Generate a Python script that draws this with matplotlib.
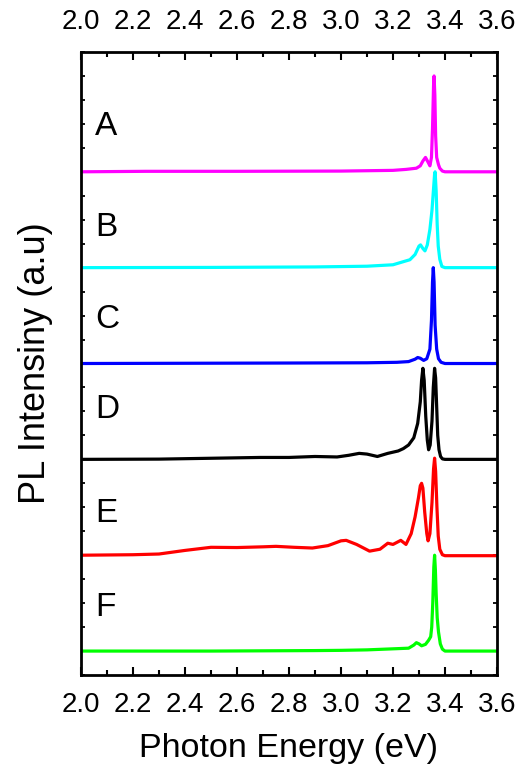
import matplotlib
matplotlib.use("Agg")
import matplotlib.pyplot as plt
from matplotlib.ticker import MultipleLocator

plt.rcParams['font.family'] = ['Liberation Sans', 'DejaVu Sans']

labels = ["A", "B", "C", "D", "E", "F"]
colors = ["#FF00FF", "#00FFFF", "#0000FF", "#000000", "#FF0000", "#00FF00"]
offsets = [21, 17, 13, 9, 5, 1]

A_x = [2.0, 2.25, 2.6, 3.0, 3.2, 3.25, 3.29, 3.305, 3.315, 3.325, 3.335, 3.342, 3.348, 3.352, 3.356, 3.358, 3.361, 3.364, 3.368, 3.375, 3.38, 3.39, 3.4, 3.6]
A_y = [0.0, 0.02, 0.02, 0.03, 0.06, 0.1, 0.15, 0.25, 0.45, 0.6, 0.4, 0.25, 0.6, 1.8, 3.6, 4.0, 3.2, 1.5, 0.6, 0.3, 0.15, 0.03, 0.0, 0.0]

B_x = [2.0, 2.5, 2.9, 3.1, 3.2, 3.24, 3.265, 3.285, 3.3, 3.306, 3.315, 3.323, 3.332, 3.342, 3.35, 3.356, 3.36, 3.362, 3.366, 3.37, 3.374, 3.38, 3.388, 3.4, 3.6]
B_y = [0.0, 0.01, 0.03, 0.06, 0.12, 0.25, 0.33, 0.55, 0.9, 0.95, 0.8, 0.7, 0.95, 1.6, 2.4, 3.3, 3.9, 4.0, 3.2, 1.8, 0.9, 0.35, 0.05, 0.0, 0.0]

C_x = [2.0, 2.8, 3.1, 3.215, 3.26, 3.285, 3.295, 3.305, 3.318, 3.33, 3.342, 3.348, 3.352, 3.355, 3.358, 3.362, 3.368, 3.375, 3.385, 3.4, 3.6]
C_y = [0.0, 0.02, 0.03, 0.05, 0.08, 0.18, 0.25, 0.22, 0.13, 0.2, 0.6, 1.8, 3.4, 4.0, 3.4, 1.6, 0.6, 0.2, 0.05, 0.0, 0.0]

D_x = [2.0, 2.3, 2.69, 2.8, 2.9, 2.985, 3.03, 3.07, 3.1, 3.14, 3.18, 3.22, 3.24, 3.26, 3.28, 3.295, 3.305, 3.31, 3.315, 3.32, 3.326, 3.332, 3.337, 3.343, 3.35, 3.355, 3.36, 3.364, 3.368, 3.372, 3.377, 3.383, 3.39, 3.4, 3.6]
D_y = [0.0, 0.01, 0.08, 0.08, 0.12, 0.1, 0.17, 0.25, 0.22, 0.12, 0.25, 0.35, 0.45, 0.6, 0.9, 1.5, 2.4, 3.3, 3.8, 3.3, 1.8, 0.8, 0.4, 0.6, 1.6, 3.0, 3.8, 3.4, 2.2, 1.0, 0.4, 0.12, 0.02, 0.0, 0.0]

E_x = [2.0, 2.2, 2.3, 2.4, 2.5, 2.6, 2.7, 2.75, 2.82, 2.89, 2.95, 3.0, 3.02, 3.06, 3.11, 3.15, 3.18, 3.2, 3.23, 3.25, 3.27, 3.285, 3.298, 3.305, 3.31, 3.315, 3.322, 3.33, 3.335, 3.342, 3.35, 3.356, 3.36, 3.364, 3.369, 3.374, 3.38, 3.39, 3.4, 3.6]
E_y = [0.0, 0.02, 0.05, 0.2, 0.33, 0.32, 0.35, 0.37, 0.33, 0.3, 0.4, 0.6, 0.62, 0.45, 0.17, 0.25, 0.5, 0.45, 0.62, 0.45, 0.9, 1.6, 2.4, 2.9, 3.0, 2.8, 1.8, 0.9, 0.6, 0.9, 2.2, 3.6, 4.05, 3.5, 2.0, 0.8, 0.25, 0.02, -0.02, -0.02]

F_x = [2.0, 2.5, 2.9, 3.0, 3.1, 3.215, 3.26, 3.28, 3.29, 3.3, 3.31, 3.325, 3.337, 3.345, 3.349, 3.353, 3.357, 3.36, 3.363, 3.366, 3.37, 3.375, 3.382, 3.39, 3.4, 3.6]
F_y = [0.0, 0.0, 0.02, 0.03, 0.05, 0.1, 0.12, 0.25, 0.35, 0.3, 0.22, 0.28, 0.45, 0.6, 1.0, 2.0, 3.5, 4.0, 3.4, 2.4, 1.4, 0.8, 0.3, 0.08, 0.0, 0.0]

xs = [A_x, B_x, C_x, D_x, E_x, F_x]
ys = [A_y, B_y, C_y, D_y, E_y, F_y]

label_x = 2.054
label_dy = [1.87, 1.66, 1.82, 2.06, 1.76, 1.8]

fig = plt.figure(figsize=(5.19, 7.69), dpi=100)
ax = fig.add_axes([0.156, 0.1222, 0.8016, 0.8102])

for x, y, c, off in zip(xs, ys, colors, offsets):
    ax.plot(x, [v + off for v in y], color=c, lw=2.3, solid_joinstyle='round')

for lab, off, dy in zip(labels, offsets, label_dy):
    ax.text(label_x, off + dy, lab, fontsize=24, ha='left', va='center')

ax.set_xlim(2.0, 3.6)
ax.set_ylim(0, 26)
ax.xaxis.set_major_locator(MultipleLocator(0.2))
ax.xaxis.set_minor_locator(MultipleLocator(0.1))
ax.yaxis.set_major_locator(MultipleLocator(1))
ax.xaxis.set_major_formatter(matplotlib.ticker.FormatStrFormatter('%.1f'))
ax.tick_params(axis='x', which='major', direction='in', length=6, width=1.5,
               top=True, bottom=True, labeltop=True, labelbottom=True, labelsize=20, pad=12)
ax.tick_params(axis='x', which='minor', direction='in', length=3.5, width=1.5,
               top=True, bottom=True)
ax.tick_params(axis='y', which='major', direction='in', length=3, width=1.3,
               left=True, right=True, labelleft=False)
for s in ax.spines.values():
    s.set_linewidth(2.0)

ax.set_xlabel("Photon Energy (eV)", fontsize=24.5, labelpad=11)
ax.set_ylabel("PL Intensiny (a.u)", fontsize=26, labelpad=20)

fig.savefig("out.png", dpi=100)
